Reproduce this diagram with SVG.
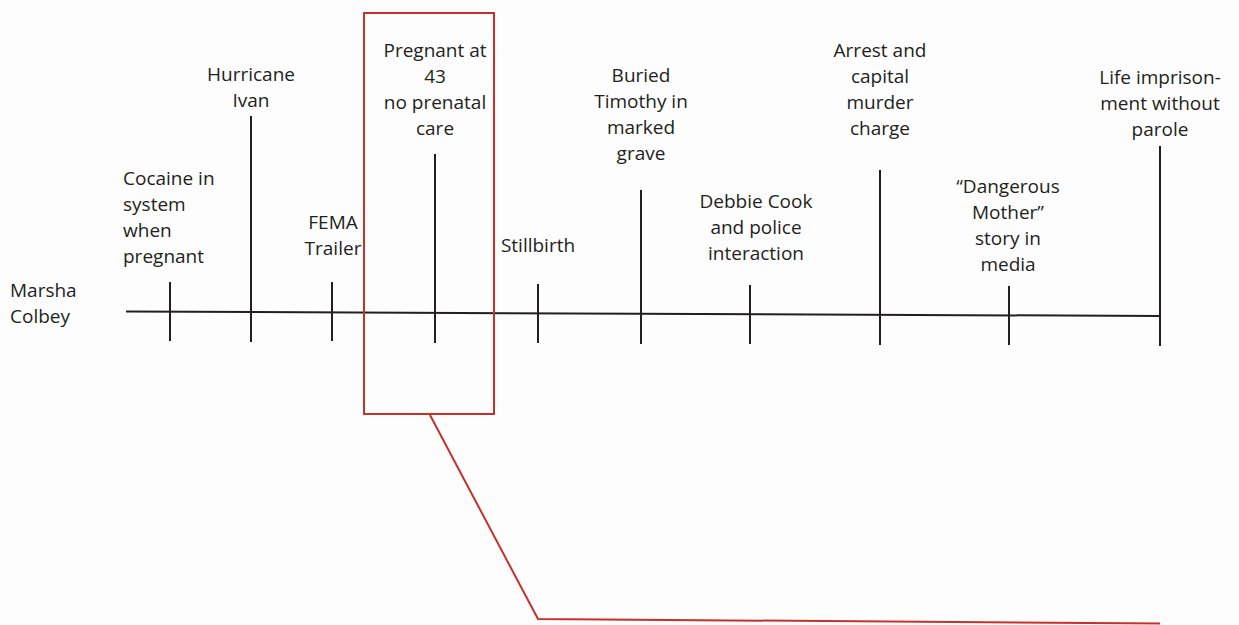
<svg xmlns="http://www.w3.org/2000/svg" width="1239" height="625" viewBox="0 0 1239 625">
<style>
  .t { font-family: "Open Sans", "Liberation Sans", sans-serif; font-size: 19px; fill: #231f20; }
  .c { text-anchor: middle; }
  .ln { stroke: #231f20; stroke-width: 2; fill: none; }
  .red { stroke: #c8302a; stroke-width: 2; fill: none; }
</style>
<rect width="1239" height="625" fill="#fdfdfd"/>
<g id="connectors">
  <line class="ln" x1="126" y1="311.5" x2="1160" y2="316"/>
  <polyline class="red" points="430,415 538,619 1160,623.5"/>
</g>
<g id="marsha">
  <text class="t" x="10" y="297">Marsha</text>
  <text class="t" x="10" y="323">Colbey</text>
</g>
<g id="cocaine">
  <line class="ln" x1="170" y1="282" x2="170" y2="341"/>
  <text class="t" x="123" y="185">Cocaine in</text>
  <text class="t" x="123" y="211">system</text>
  <text class="t" x="123" y="237">when</text>
  <text class="t" x="123" y="263">pregnant</text>
</g>
<g id="hurricane">
  <line class="ln" x1="251" y1="116" x2="251" y2="342"/>
  <text class="t c" x="251" y="81">Hurricane</text>
  <text class="t c" x="251" y="107">Ivan</text>
</g>
<g id="fema">
  <line class="ln" x1="332" y1="282" x2="332" y2="341"/>
  <text class="t c" x="333" y="229">FEMA</text>
  <text class="t c" x="333" y="255">Trailer</text>
</g>
<g id="pregnant">
  <rect class="red" x="364" y="13" width="130" height="401"/>
  <line class="ln" x1="435" y1="154" x2="435" y2="343"/>
  <text class="t c" x="435" y="57">Pregnant at</text>
  <text class="t c" x="435" y="83">43</text>
  <text class="t c" x="435" y="109">no prenatal</text>
  <text class="t c" x="435" y="135">care</text>
</g>
<g id="stillbirth">
  <line class="ln" x1="538" y1="284" x2="538" y2="343"/>
  <text class="t c" x="538" y="252">Stillbirth</text>
</g>
<g id="buried">
  <line class="ln" x1="641" y1="190" x2="641" y2="344"/>
  <text class="t c" x="641" y="82">Buried</text>
  <text class="t c" x="641" y="108">Timothy in</text>
  <text class="t c" x="641" y="134">marked</text>
  <text class="t c" x="641" y="160">grave</text>
</g>
<g id="debbie">
  <line class="ln" x1="750" y1="285" x2="750" y2="344"/>
  <text class="t c" x="756" y="208">Debbie Cook</text>
  <text class="t c" x="756" y="234">and police</text>
  <text class="t c" x="756" y="260">interaction</text>
</g>
<g id="arrest">
  <line class="ln" x1="880" y1="170" x2="880" y2="345"/>
  <text class="t c" x="880" y="57">Arrest and</text>
  <text class="t c" x="880" y="83">capital</text>
  <text class="t c" x="880" y="109">murder</text>
  <text class="t c" x="880" y="135">charge</text>
</g>
<g id="dangerous">
  <line class="ln" x1="1009" y1="286" x2="1009" y2="345"/>
  <text class="t c" x="1008" y="193">“Dangerous</text>
  <text class="t c" x="1008" y="219">Mother”</text>
  <text class="t c" x="1008" y="245">story in</text>
  <text class="t c" x="1008" y="271">media</text>
</g>
<g id="life">
  <line class="ln" x1="1160" y1="146" x2="1160" y2="346"/>
  <text class="t c" x="1160" y="84">Life imprison-</text>
  <text class="t c" x="1160" y="110">ment without</text>
  <text class="t c" x="1160" y="136">parole</text>
</g>
</svg>
